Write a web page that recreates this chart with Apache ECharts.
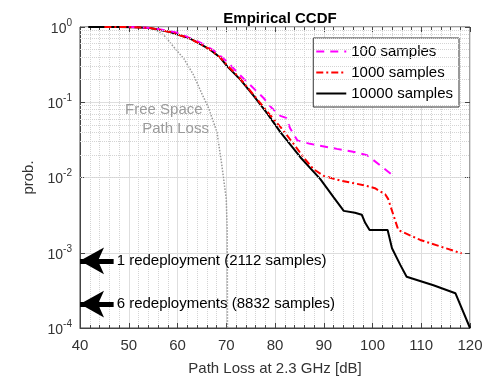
<!DOCTYPE html>
<html>
<head>
<meta charset="utf-8">
<script src="https://cdn.jsdelivr.net/npm/echarts@6.0.0/dist/echarts.min.js"></script>
<style>
  html, body { margin: 0; padding: 0; background: #fff; }
  #chart { width: 489px; height: 381px; }
</style>
</head>
<body>
<div id="chart"></div>
<script>
  // values (x in dB, y as probability)
  const freeDb = [41.7, 52, 54.4, 55.5, 57.2, 59.2, 61.3, 63.3, 65.0, 66.4, 68.1, 69.1, 70.0, 70.2, 70.25];
  const freeProb = [1, 1, 0.96, 0.92, 0.78, 0.545, 0.38, 0.23, 0.13, 0.083, 0.04, 0.0145, 0.0052, 0.002, 0.0001];

  const db100 = [50, 55, 60, 64.7, 67.4, 70.2, 72.5, 74.9, 77.7, 79.4, 81.1, 82.3, 83.1, 84.6, 87.2, 92.7, 96.0, 98.9, 104.3];
  const prob100 = [1, 0.97, 0.84, 0.62, 0.49, 0.345, 0.24, 0.17, 0.113, 0.083, 0.066, 0.062, 0.045, 0.031, 0.028, 0.024, 0.022, 0.0198, 0.0105];

  const db1000 = [45, 51, 54.4, 58.5, 62.6, 64.7, 66.7, 68.8, 70.2, 72.9, 75.55, 78.4, 81.1, 84.0, 86.0, 87.9, 90.0, 93.4, 98.2, 100.5, 102.6, 103.2, 105.3, 109.8, 118.3];
  const prob1000 = [1, 0.995, 0.97, 0.86, 0.70, 0.59, 0.50, 0.39, 0.31, 0.205, 0.127, 0.075, 0.047, 0.027, 0.018, 0.0129, 0.0105, 0.0091, 0.0079, 0.0072, 0.006, 0.0052, 0.002, 0.00148, 0.00098];

  const db10000 = [41.7, 48, 51, 54.4, 58.5, 62.6, 64.7, 66.7, 68.8, 70.2, 72.9, 75.55, 78.4, 81.1, 85.2, 89.3, 92.0, 94.1, 96.4, 97.8, 98.5, 99.4, 103.1, 104.0, 105.7, 107.0, 112.5, 117.0, 120.0];
  const prob10000 = [1, 1, 0.995, 0.97, 0.86, 0.70, 0.59, 0.50, 0.39, 0.30, 0.20, 0.123, 0.071, 0.040, 0.0186, 0.0095, 0.0055, 0.0036, 0.0034, 0.0032, 0.0025, 0.002, 0.002, 0.00115, 0.00069, 0.00048, 0.00037, 0.00029, 0.0001];

  const seriesNames = ["100 samples", "1000 samples", "10000 samples"];

  const arrowProb = [7.8e-4, 2.08e-4];
  const arrowText = ["1 redeployment (2112 samples)", "6 redeployments (8832 samples)"];

  const freeLabelText = ["Free Space", "Path Loss"];
  const freeLabelDb = [57.2, 59.6];
  const freeLabelProb = [0.08, 0.0437];

  // minor log grid lines 2..9 x 10^k
  const minorProb = [];
  for (let k = -4; k < 0; k++) {
    for (let m = 2; m <= 9; m++) minorProb.push(m * Math.pow(10, k));
  }

  const zip = (xs, ys) => xs.map((x, i) => [x, ys[i]]);
  const font = "Liberation Sans, Arial, sans-serif";
  const axisColor = "#444";

  const chart = echarts.init(document.getElementById("chart"));

  const option = {
    animation: false,
    title: {
      text: "Empirical CCDF",
      left: 275,
      top: 6,
      textAlign: "center",
      textStyle: { fontSize: 15, fontWeight: "bold", color: "#000", fontFamily: font },
    },
    legend: {
      data: seriesNames,
      orient: "vertical",
      right: 30,
      top: 38,
      itemWidth: 30,
      itemHeight: 14,
      itemGap: 6,
      padding: [6, 6, 6, 2],
      backgroundColor: "#fff",
      borderColor: "#333",
      borderWidth: 1,
      itemStyle: { opacity: 0 },
      textStyle: { fontSize: 15, color: "#000", fontFamily: font },
    },
    grid: {
      left: 80,
      right: 19,
      top: 27,
      bottom: 51,
      show: true,
      borderColor: axisColor,
      borderWidth: 1,
    },
    xAxis: [
      {
        type: "value",
        min: 40,
        max: 120,
        interval: 10,
        position: "bottom",
        name: "Path Loss at 2.3 GHz [dB]",
        nameLocation: "middle",
        nameGap: 33,
        nameTextStyle: { fontSize: 15, color: "#333", fontFamily: font },
        axisLine: { show: true, lineStyle: { color: axisColor } },
        axisTick: { inside: true, length: 5, lineStyle: { color: axisColor } },
        minorTick: { show: true, splitNumber: 5, length: 3, lineStyle: { color: axisColor } },
        axisLabel: { fontSize: 15, color: "#333", margin: 10, fontFamily: font },
        splitLine: { show: true, lineStyle: { color: "#dedede" } },
        minorSplitLine: { show: true, lineStyle: { color: "#d4d4d4", type: "dotted" } },
      },
      {
        type: "value",
        min: 40,
        max: 120,
        interval: 10,
        position: "top",
        axisLine: { show: false },
        axisTick: { inside: true, length: 5, lineStyle: { color: axisColor } },
        minorTick: { show: true, splitNumber: 5, length: 3, lineStyle: { color: axisColor } },
        axisLabel: { show: false },
        splitLine: { show: false },
      },
    ],
    yAxis: [
      {
        type: "log",
        logBase: 10,
        min: 1e-4,
        max: 1,
        position: "left",
        name: "prob.",
        nameLocation: "middle",
        nameGap: 33,
        nameTextStyle: { fontSize: 15, color: "#333", fontFamily: font },
        axisLine: { show: true, lineStyle: { color: axisColor } },
        axisTick: { inside: true, length: 5, lineStyle: { color: axisColor } },
        splitLine: { show: true, lineStyle: { color: "#dedede" } },
        axisLabel: {
          margin: 8,
          formatter: (v) => "{b|10}{s|" + Math.round(Math.log10(v)) + "}",
          rich: {
            b: { fontSize: 14, color: "#333", fontFamily: font, verticalAlign: "bottom" },
            s: { fontSize: 10, color: "#333", fontFamily: font, verticalAlign: "bottom", padding: [0, 0, 8, 0] },
          },
        },
      },
      {
        type: "log",
        logBase: 10,
        min: 1e-4,
        max: 1,
        position: "right",
        axisLine: { show: false },
        axisTick: { inside: true, length: 5, lineStyle: { color: axisColor } },
        axisLabel: { show: false },
        splitLine: { show: false },
      },
    ],
    series: [
      {
        name: "Free Space Path Loss",
        type: "line",
        z: 1,
        showSymbol: false,
        symbol: "none",
        lineStyle: { color: "#999", width: 1.5, type: "dotted" },
        data: zip(freeDb, freeProb),
        markLine: {
          silent: true,
          symbol: "none",
          label: { show: false },
          lineStyle: { color: "#d4d4d4", type: "dotted", width: 1 },
          data: minorProb.map((v) => ({ yAxis: v })),
        },
        markPoint: {
          silent: true,
          symbolSize: 0,
          label: { show: true, color: "#9a9a9a", fontSize: 15, fontFamily: font, formatter: "{b}" },
          data: freeLabelText.map((t, i) => ({ name: t, coord: [freeLabelDb[i], freeLabelProb[i]] })),
        },
      },
      {
        name: seriesNames[0],
        type: "line",
        z: 3,
        symbol: "none",
        lineStyle: { color: "#ff00ff", width: 2, type: [8, 6] },
        itemStyle: { color: "#ff00ff" },
        data: zip(db100, prob100),
      },
      {
        name: seriesNames[1],
        type: "line",
        z: 4,
        symbol: "none",
        lineStyle: { color: "#ff0000", width: 2, type: [7, 3, 2, 3] },
        itemStyle: { color: "#ff0000" },
        data: zip(db1000, prob1000),
      },
      {
        name: seriesNames[2],
        type: "line",
        z: 2,
        symbol: "none",
        lineStyle: { color: "#000", width: 2 },
        itemStyle: { color: "#000" },
        data: zip(db10000, prob10000),
        markLine: {
          silent: true,
          lineStyle: { color: "#000", width: 5, type: "solid" },
          label: {
            show: true,
            position: "end",
            formatter: "{b}",
            color: "#000",
            fontSize: 15,
            fontFamily: font,
            distance: 3,
          },
          data: arrowProb.map((p, i) => [
            { name: arrowText[i], coord: [40, p], symbol: "arrow", symbolSize: [20, 24] },
            { coord: [46.9, p], symbol: "none" },
          ]),
        },
      },
    ],
  };

  chart.setOption(option);
</script>
</body>
</html>
